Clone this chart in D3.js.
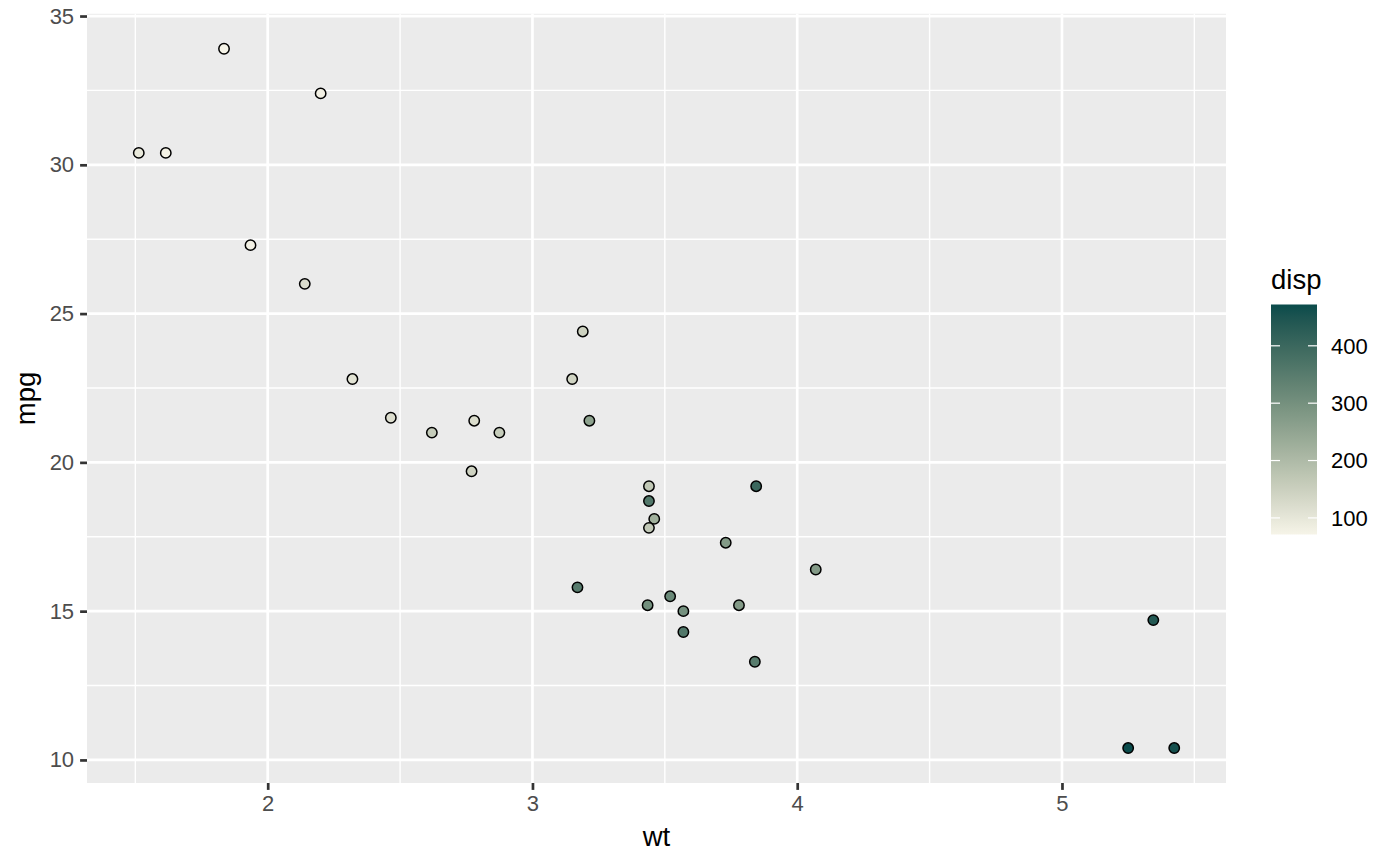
<!DOCTYPE html>
<html>
<head>
<meta charset="utf-8">
<script src="https://cdn.jsdelivr.net/npm/d3@7"></script>
<style>
  body { margin: 0; background: #fff; }
  svg { display: block; font-family: "Liberation Sans", Arial, sans-serif; }
</style>
</head>
<body>
<svg id="chart" width="1400" height="866"></svg>
<script>
// mtcars: weight (1000 lbs), miles per gallon, displacement
const wt = [2.620, 2.875, 2.320, 3.215, 3.440, 3.460, 3.570, 3.190, 3.150, 3.440, 3.440,
  4.070, 3.730, 3.780, 5.250, 5.424, 5.345, 2.200, 1.615, 1.835, 2.465, 3.520, 3.435,
  3.840, 3.845, 1.935, 2.140, 1.513, 3.170, 2.770, 3.570, 2.780];
const mpg = [21.0, 21.0, 22.8, 21.4, 18.7, 18.1, 14.3, 24.4, 22.8, 19.2, 17.8,
  16.4, 17.3, 15.2, 10.4, 10.4, 14.7, 32.4, 30.4, 33.9, 21.5, 15.5, 15.2,
  13.3, 19.2, 27.3, 26.0, 30.4, 15.8, 19.7, 15.0, 21.4];
const disp = [160, 160, 108, 258, 360, 225, 360, 146.7, 140.8, 167.6, 167.6,
  275.8, 275.8, 275.8, 472, 460, 440, 78.7, 75.7, 71.1, 120.1, 318, 304,
  350, 400, 79, 120.3, 95.1, 351, 145, 301, 121];
const xTicks = [2, 3, 4, 5];
const yTicks = [10, 15, 20, 25, 30, 35];
const legendTicks = [100, 200, 300, 400];

const LOW = '#F6F4E8';
const HIGH = '#0A4B4B';

const panel = { left: 87, right: 1226, top: 13.8, bottom: 783 };
const svg = d3.select('#chart');

const expand = ext => {
  const pad = (ext[1] - ext[0]) * 0.05;
  return [ext[0] - pad, ext[1] + pad];
};

const x = d3.scaleLinear().domain(expand(d3.extent(wt))).range([panel.left, panel.right]);
const y = d3.scaleLinear().domain(expand(d3.extent(mpg))).range([panel.bottom, panel.top]);
const fill = d3.scaleLinear()
  .domain(d3.extent(disp))
  .range([LOW, HIGH])
  .interpolate(d3.interpolateHcl);

// panel background
svg.append('rect')
  .attr('x', panel.left).attr('y', panel.top)
  .attr('width', panel.right - panel.left)
  .attr('height', panel.bottom - panel.top)
  .attr('fill', '#EBEBEB');

// minor grid at the midpoints between major breaks
const mids = ticks => ticks.slice(0, -1).map((t, i) => (t + ticks[i + 1]) / 2)
  .concat([ticks[0] - (ticks[1] - ticks[0]) / 2, ticks[ticks.length - 1] + (ticks[1] - ticks[0]) / 2]);
const inside = (scale, v) => v >= scale.domain()[0] && v <= scale.domain()[1];

const grid = svg.append('g');
grid.selectAll('.xminor')
  .data(mids(xTicks).filter(v => inside(x, v)))
  .enter().append('line')
  .attr('x1', d => x(d)).attr('x2', d => x(d))
  .attr('y1', panel.top).attr('y2', panel.bottom)
  .attr('stroke', '#fff').attr('stroke-width', 1.4);
grid.selectAll('.yminor')
  .data(mids(yTicks).filter(v => inside(y, v)))
  .enter().append('line')
  .attr('y1', d => y(d)).attr('y2', d => y(d))
  .attr('x1', panel.left).attr('x2', panel.right)
  .attr('stroke', '#fff').attr('stroke-width', 1.4);
grid.selectAll('.xmajor')
  .data(xTicks)
  .enter().append('line')
  .attr('x1', d => x(d)).attr('x2', d => x(d))
  .attr('y1', panel.top).attr('y2', panel.bottom)
  .attr('stroke', '#fff').attr('stroke-width', 2.7);
grid.selectAll('.ymajor')
  .data(yTicks)
  .enter().append('line')
  .attr('y1', d => y(d)).attr('y2', d => y(d))
  .attr('x1', panel.left).attr('x2', panel.right)
  .attr('stroke', '#fff').attr('stroke-width', 2.7);

// axes
const xAxis = svg.append('g')
  .attr('transform', `translate(0,${panel.bottom})`)
  .call(d3.axisBottom(x).tickValues(xTicks).tickFormat(d3.format('d')).tickSizeInner(6.9).tickSizeOuter(0).tickPadding(5));
const yAxis = svg.append('g')
  .attr('transform', `translate(${panel.left},0)`)
  .call(d3.axisLeft(y).tickValues(yTicks).tickFormat(d3.format('d')).tickSizeInner(6.9).tickSizeOuter(0).tickPadding(6));

[xAxis, yAxis].forEach(ax => {
  ax.select('.domain').remove();
  ax.selectAll('.tick line').attr('stroke', '#333333').attr('stroke-width', 2.7);
  ax.selectAll('.tick text')
    .attr('fill', '#4D4D4D')
    .style('font-size', '22px')
    .style('font-family', '"Liberation Sans", Arial, sans-serif');
});
xAxis.selectAll('.tick text').attr('dy', '0.74em');

// axis titles
svg.append('text')
  .attr('x', (panel.left + panel.right) / 2)
  .attr('y', 846)
  .attr('text-anchor', 'middle')
  .style('font-size', '27.5px')
  .text('wt');
svg.append('text')
  .attr('transform', `translate(35,${(panel.top + panel.bottom) / 2}) rotate(-90)`)
  .attr('text-anchor', 'middle')
  .style('font-size', '27.5px')
  .text('mpg');

// points
svg.append('g')
  .selectAll('circle')
  .data(wt.map((w, i) => ({ wt: w, mpg: mpg[i], disp: disp[i] })))
  .enter().append('circle')
  .attr('cx', d => x(d.wt))
  .attr('cy', d => y(d.mpg))
  .attr('r', 5.2)
  .attr('fill', d => fill(d.disp))
  .attr('stroke', '#000')
  .attr('stroke-width', 1.5);

// colourbar legend
const bar = { left: 1271, width: 46, top: 304.5, bottom: 534.5 };
const legendY = d3.scaleLinear().domain(d3.extent(disp)).range([bar.bottom, bar.top]);

const defs = svg.append('defs');
const grad = defs.append('linearGradient')
  .attr('id', 'dispGrad')
  .attr('x1', 0).attr('x2', 0).attr('y1', 1).attr('y2', 0);
d3.range(0, 1.0001, 0.05).forEach(t => {
  const v = fill.domain()[0] + t * (fill.domain()[1] - fill.domain()[0]);
  grad.append('stop').attr('offset', t).attr('stop-color', fill(v));
});

const legend = svg.append('g');
legend.append('text')
  .attr('x', bar.left)
  .attr('y', 289)
  .style('font-size', '27.5px')
  .text('disp');
legend.append('rect')
  .attr('x', bar.left).attr('y', bar.top)
  .attr('width', bar.width).attr('height', bar.bottom - bar.top)
  .attr('fill', 'url(#dispGrad)');
legend.selectAll('.ltick-l')
  .data(legendTicks)
  .enter().append('line')
  .attr('x1', bar.left).attr('x2', bar.left + 9)
  .attr('y1', d => legendY(d)).attr('y2', d => legendY(d))
  .attr('stroke', '#fff').attr('stroke-width', 1.2);
legend.selectAll('.ltick-r')
  .data(legendTicks)
  .enter().append('line')
  .attr('x1', bar.left + bar.width - 9).attr('x2', bar.left + bar.width)
  .attr('y1', d => legendY(d)).attr('y2', d => legendY(d))
  .attr('stroke', '#fff').attr('stroke-width', 1.2);
legend.selectAll('.llabel')
  .data(legendTicks)
  .enter().append('text')
  .attr('x', 1331)
  .attr('y', d => legendY(d))
  .attr('dy', '0.36em')
  .style('font-size', '22px')
  .text(d => d);
</script>
</body>
</html>
